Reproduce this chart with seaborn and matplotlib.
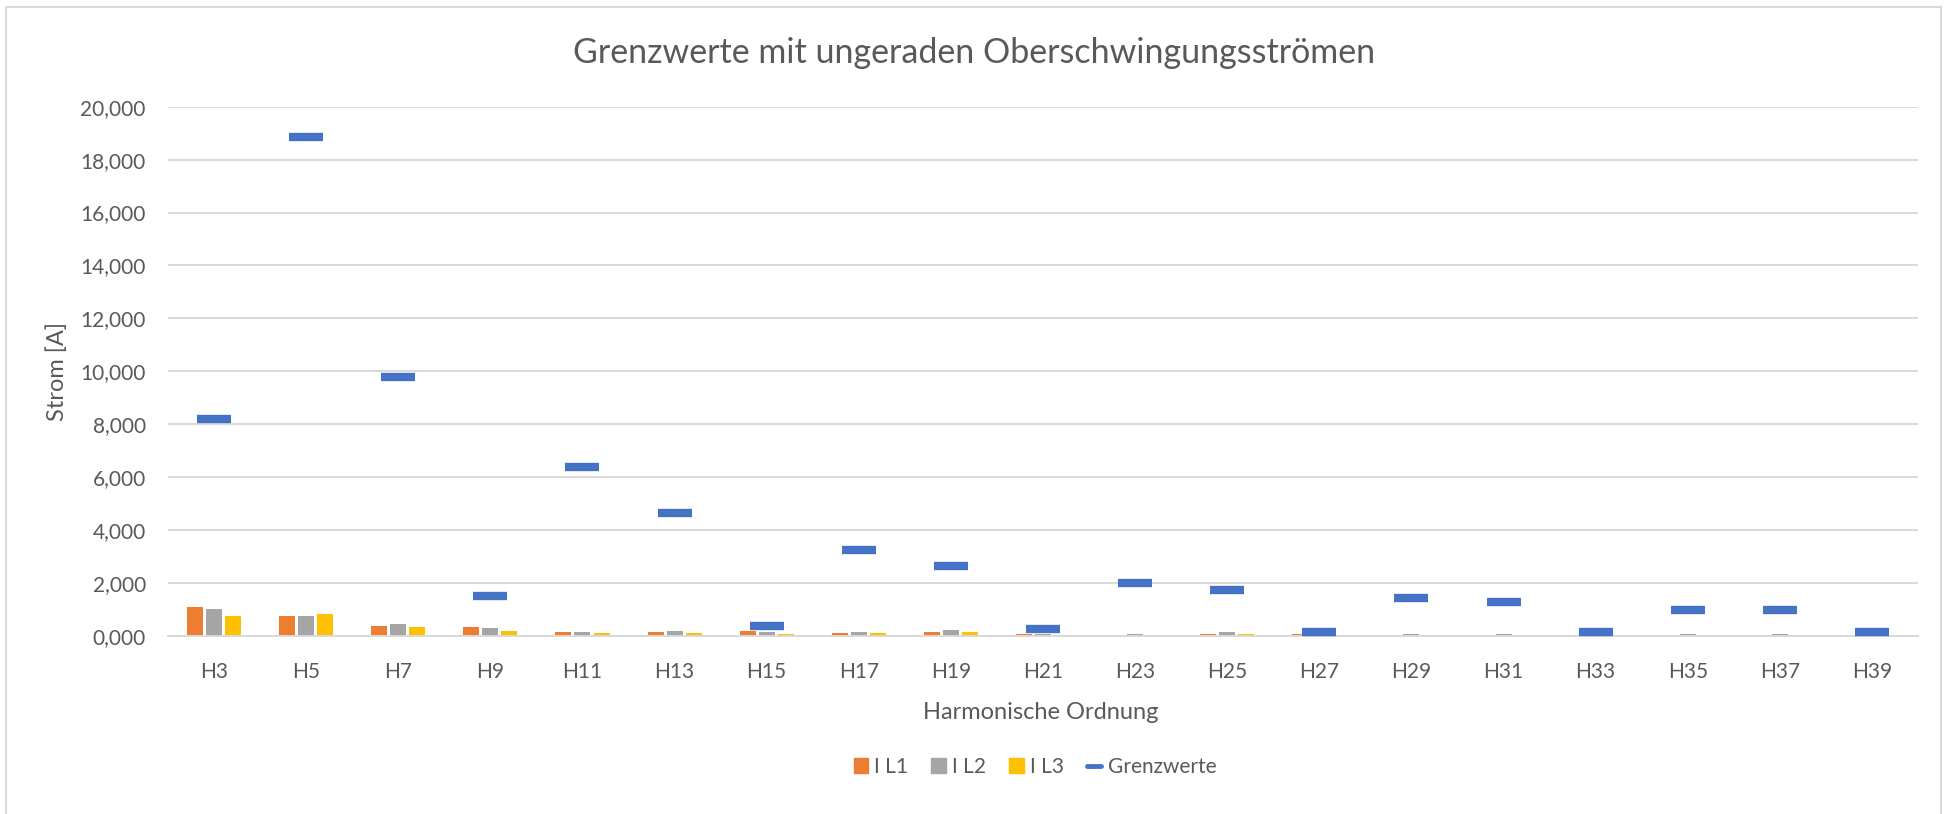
# libs #
import numpy as np
import pandas as pd
import seaborn as sns
import matplotlib.pyplot as plt
from matplotlib.patches import Patch, Rectangle
from matplotlib.lines import Line2D
from matplotlib.ticker import FuncFormatter

# data (values in A) #
harmonics = ["H3", "H5", "H7", "H9", "H11", "H13", "H15", "H17", "H19", "H21",
             "H23", "H25", "H27", "H29", "H31", "H33", "H35", "H37", "H39"]
i_l1 = [1.11, 0.74, 0.37, 0.35, 0.14, 0.14, 0.18, 0.10, 0.15, 0.06,
        0.04, 0.09, 0.06, 0.02, 0.02, 0.02, 0.01, 0.01, 0.01]
i_l2 = [1.01, 0.77, 0.44, 0.31, 0.16, 0.20, 0.15, 0.14, 0.24, 0.06,
        0.09, 0.14, 0.05, 0.07, 0.07, 0.03, 0.06, 0.06, 0.02]
i_l3 = [0.76, 0.82, 0.33, 0.20, 0.11, 0.10, 0.06, 0.10, 0.15, 0.04,
        0.03, 0.08, 0.03, 0.01, 0.01, 0.01, 0.01, 0.01, 0.01]
grenzwerte = [8.21, 18.87, 9.77, 1.50, 6.40, 4.64, 0.38, 3.25, 2.64, 0.25,
              2.01, 1.75, 0.14, 1.45, 1.28, 0.14, 0.99, 0.99, 0.14]
series_names = ["I L1", "I L2", "I L3"]
yticks = [0, 2, 4, 6, 8, 10, 12, 14, 16, 18, 20]

# colours #
c_l1 = "#ED7D31"
c_l2 = "#A5A5A5"
c_l3 = "#FFC000"
c_gw = "#4472C4"
c_text = "#595959"
c_grid = "#D9D9D9"

sns.set_style("white")
plt.rcParams['font.family'] = ['Lato', 'DejaVu Sans']

df = pd.DataFrame({"H": harmonics, "I L1": i_l1, "I L2": i_l2, "I L3": i_l3})
df_long = df.melt(id_vars="H", value_vars=series_names, var_name="Serie", value_name="Strom")

fig = plt.figure(figsize=(19.49, 8.14), dpi=100)
ax = fig.add_axes([168 / 1949, 1 - 636 / 814, 1750 / 1949, 529.3 / 814])

sns.barplot(data=df_long, x="H", y="Strom", hue="Serie", order=harmonics,
            palette=[c_l1, c_l2, c_l3], saturation=1, width=0.62, gap=0.16,
            linewidth=0, legend=False, ax=ax, zorder=2)
sns.pointplot(x=harmonics, y=grenzwerte, order=harmonics, color=c_gw,
              marker="_", linestyle="none", markersize=24.5, markeredgewidth=6,
              errorbar=None, ax=ax, zorder=3)

ax.set_xlim(-0.5, len(harmonics) - 0.5)
ax.set_ylim(0, 20)
ax.set_yticks(yticks)
ax.yaxis.set_major_formatter(FuncFormatter(lambda v, p: f"{v:.3f}".replace(".", ",")))
ax.grid(axis="y", color=c_grid, linewidth=1.4, zorder=0)
ax.set_axisbelow(True)
for s in ["top", "right", "left"]:
    ax.spines[s].set_visible(False)
ax.spines["bottom"].set_color(c_grid)
ax.spines["bottom"].set_linewidth(1.4)
ax.tick_params(axis="x", length=0, pad=19, labelsize=15, labelcolor=c_text)
ax.tick_params(axis="y", length=0, pad=16, labelsize=15, labelcolor=c_text)

ax.set_xlabel("Harmonische Ordnung", fontsize=17, color=c_text, va="center")
ax.xaxis.set_label_coords(0.4986, -0.1436)
ax.set_ylabel("Strom [A]", fontsize=17, color=c_text, ha="center", va="center")
ax.yaxis.set_label_coords(-0.0636, 0.5)

fig.text(974 / 1949, 1 - 62.7 / 814, "Grenzwerte mit ungeraden Oberschwingungsströmen",
         ha="center", va="baseline", fontsize=24.5, color=c_text)

handles = [Patch(color=c_l1, label="I L1"), Patch(color=c_l2, label="I L2"),
           Patch(color=c_l3, label="I L3"),
           Line2D([0], [0], color=c_gw, linewidth=3.5, label="Grenzwerte")]
leg = fig.legend(handles=handles, loc="center", bbox_to_anchor=(1035 / 1949, 1 - 767 / 814),
                 ncol=4, frameon=False, fontsize=15, handlelength=0.7, handleheight=0.7,
                 handletextpad=0.3, columnspacing=1.1)
for t in leg.get_texts():
    t.set_color(c_text)

# chart border like the excel frame
fig.patches.append(Rectangle((6 / 1949, -0.05), 1935 / 1949, 1 - 7 / 814 + 0.05,
                             transform=fig.transFigure, fill=False,
                             edgecolor=c_grid, linewidth=1.5))

fig.savefig("out.png", dpi=100)
